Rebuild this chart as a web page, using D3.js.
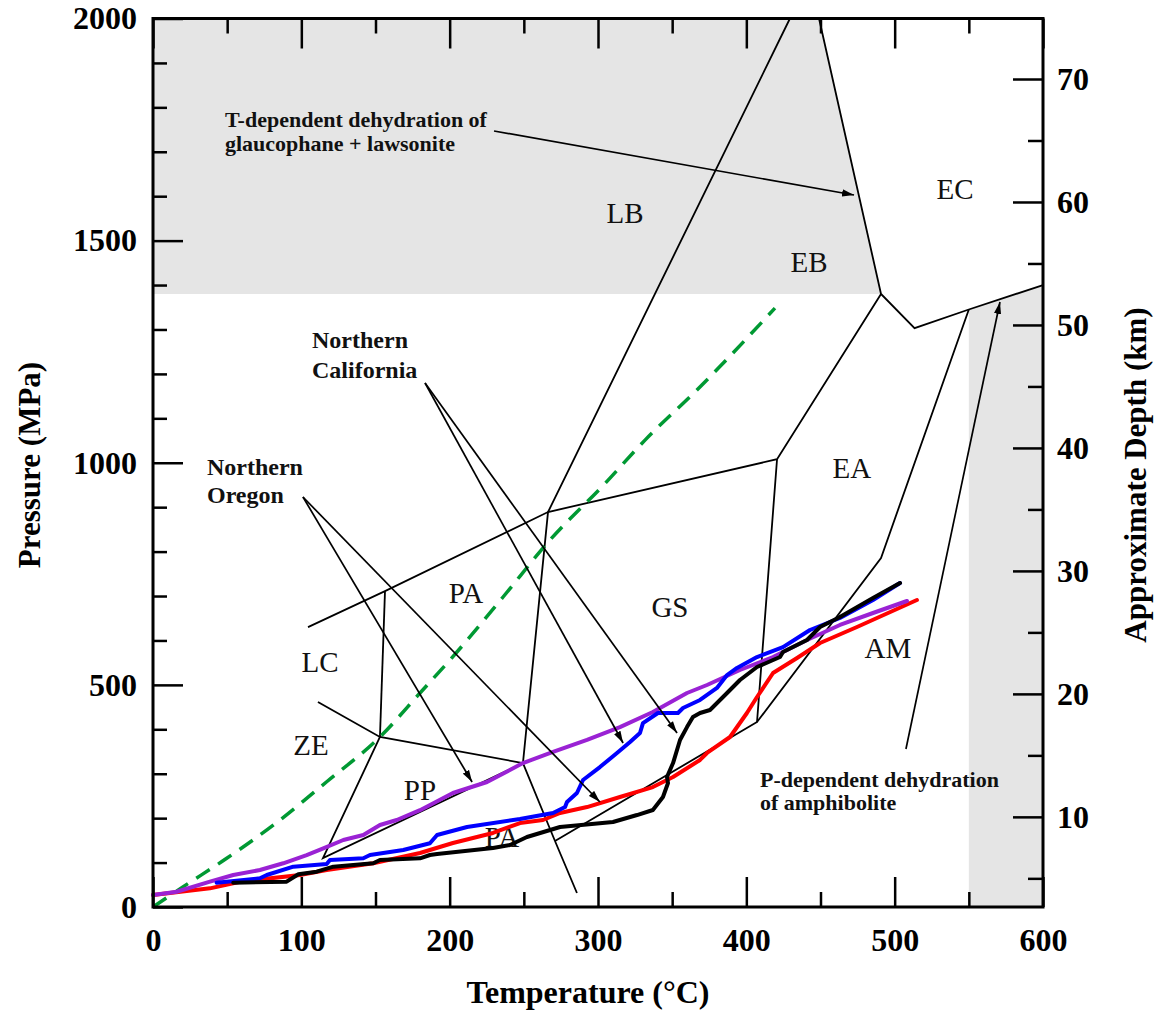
<!DOCTYPE html>
<html>
<head>
<meta charset="utf-8">
<script src="https://cdn.jsdelivr.net/npm/d3@7"></script>
<style>
  body { margin: 0; background: #fff; }
  svg { display: block; }
  text { font-family: "Liberation Serif", "Times New Roman", Times, serif; }
</style>
</head>
<body>
<svg id="chart" width="1165" height="1012"></svg>
<script>
// ---- axis ticks ----
const tempTicks = [0, 100, 200, 300, 400, 500, 600];
const tempMinorTicks = [50, 150, 250, 350, 450, 550];
const pressureTicks = [0, 500, 1000, 1500, 2000];
const pressureMinorTicks = [100, 200, 300, 400, 600, 700, 800, 900, 1100, 1200, 1300, 1400, 1600, 1700, 1800, 1900];
const depthTicks = [10, 20, 30, 40, 50, 60, 70];
const depthMinorTicks = [5, 15, 25, 35, 45, 55, 65];

// ---- shaded dehydration fields [T °C, P MPa] ----
const glaucophaneField = [[0, 1380], [0, 2000], [449, 2000], [490.8, 1380]];
const amphiboliteField = [[550, 0], [600, 0], [600, 1400], [550, 1345]];

// ---- metamorphic facies boundaries [T °C, P MPa] ----
const faciesBoundaries = [
  [[429.4, 2000], [266.3, 889], [249.4, 324], [271, 148.6], [285.8, 31.5]],
  [[104.5, 630], [156.4, 711], [266.3, 889], [420.7, 1008], [490.8, 1380]],
  [[449, 2000], [490.8, 1380], [513.4, 1303], [550, 1345], [600, 1400]],
  [[550, 1345], [490.8, 785.6], [407.2, 416.4]],
  [[420.7, 1008], [407.2, 416.4], [271, 148.6]],
  [[156.4, 711], [153, 382.7]],
  [[111.2, 461.5], [153, 382.7], [249.4, 324]],
  [[153, 382.7], [114.6, 110], [249.4, 324]]
];

// ---- facies labels ----
const faciesNames = ["LB", "EB", "EC", "PA", "GS", "EA", "LC", "ZE", "PP", "PA", "AM"];
const faciesT = [318.2, 442.3, 540.7, 211, 348.5, 471.2, 112.6, 106.5, 180, 235.3, 495.5];
const faciesP = [1562, 1452, 1616, 707, 675, 988, 551.5, 364.7, 263.4, 157.6, 583];

// ---- geotherm (dashed) ----
const geothermT = [0, 20.4, 49.7, 85.6, 117.1, 153, 180, 204.9, 236, 267.6, 303.8, 331.7, 366.7, 419.3];
const geothermP = [0, 45.7, 109.6, 195.8, 282, 382.7, 481.7, 574, 697.8, 826, 950, 1051, 1163.8, 1348];

// ---- slab P-T paths [T °C, P MPa] ----
const oregonUpper = [
  [0, 27], [16, 34.4], [38.4, 57], [54.1, 72], [72.1, 83.3], [87.8, 98.4], [103.6, 117],
  [114.8, 132], [128.3, 150.8], [141.8, 162], [153, 184.6], [164.3, 195.8], [180, 218],
  [202.2, 256.6], [225.2, 281.4], [249.4, 324], [269.7, 349], [292.6, 376], [314.8, 405],
  [337, 439], [360, 481.7], [373.5, 499.7], [395.7, 533.5], [418, 562.7], [440.9, 601],
  [463.1, 634.8], [485.4, 661.8], [508.3, 688.8]
];
const oregonLower = [
  [0, 27], [38.4, 42], [58.7, 57], [99.1, 72], [117.1, 83.3], [148.5, 98.4], [180, 121.6],
  [202.2, 144], [229.2, 166.6], [247.4, 189], [262.9, 195.8], [274.4, 211.6], [292.6, 225],
  [314.8, 247.6], [337, 270], [350.6, 292.6], [368.8, 331], [373.5, 346.7], [389, 382.7],
  [400.4, 436.7], [407.2, 472.7], [418, 526.7], [434.2, 560.5], [449.7, 594.3],
  [474.6, 630.3], [515, 691]
];
const californiaUpper = [
  [42.9, 54.7], [72.1, 64.6], [76.7, 72], [94.6, 90.7], [117.1, 96.8], [119.3, 105.8],
  [141.8, 109.6], [146.3, 117], [168.7, 128.3], [186.7, 143.4], [191.5, 162], [211.7, 180],
  [247.4, 198], [269.7, 211.6], [277.8, 225], [279.1, 236.4], [285.8, 256.6], [289.9, 285.9],
  [301.3, 315], [312.8, 346.7], [321.6, 371.4], [328.3, 391.7], [330.3, 414], [340.4, 436.7],
  [353.9, 436.7], [357.3, 448], [368.8, 466], [380.2, 493], [387, 522], [393.7, 538],
  [407.2, 562.7], [424.7, 585], [442.9, 623.5], [463.1, 650.5], [485.4, 691], [503.6, 729.3]
];
const californiaLower = [
  [54.1, 54.7], [90.1, 57], [98, 73.6], [110.4, 79.5], [121.6, 90.7], [148.5, 98.4],
  [153, 105.8], [180, 109.6], [186.7, 117], [191.5, 119.3], [229.2, 132.8], [240.7, 139.6],
  [252.1, 157.6], [274.4, 180], [310.1, 191.3], [326.3, 207], [337, 218.3], [343.8, 247.6],
  [347.2, 279], [346.5, 292.6], [350.6, 324], [355.3, 376], [360, 405], [364, 427.7],
  [368.8, 436.7], [375.5, 443.4], [387, 481.7], [395.7, 511], [407.2, 540.2], [422.7, 562.7],
  [424.7, 574], [440.9, 601], [449.7, 630.3], [463.1, 652.8], [485.4, 695.6], [503.6, 729.3]
];

// ---- annotations ----
const glaucophaneNote = ["T-dependent dehydration of", "glaucophane + lawsonite"];
const californiaNote = ["Northern", "California"];
const oregonNote = ["Northern", "Oregon"];
const amphiboliteNote = ["P-dependent dehydration", "of amphibolite"];
// leader lines: origin and arrow tip(s), [T, P]
const glaucophaneLeader = [[229.9, 1746.8], [472.6, 1602.7]];
const californiaLeaders = [[[183.4, 1179.5], [316.9, 369.2]], [[183.4, 1179.5], [353.3, 391.7]]];
const oregonLeaders = [[[101.1, 922.9], [215.1, 281.4]], [[101.1, 922.9], [301.3, 236.4]]];
const amphiboliteLeader = [[507.6, 355.7], [571, 1361.8]];

// ================= drawing =================
const svg = d3.select("#chart");
const plotLeft = 153, plotRight = 1043, plotTop = 18.5, plotBottom = 907;

const x = d3.scaleLinear().domain([0, 600]).range([plotLeft, plotRight]);
const y = d3.scaleLinear().domain([0, 2000]).range([plotBottom, plotTop]);
const yDepth = d3.scaleLinear().domain([2.67, 74.92]).range([plotBottom, plotTop]);

const line = d3.line().x(d => x(d[0])).y(d => y(d[1]));

// arrowhead
svg.append("defs").append("marker")
  .attr("id", "arrow")
  .attr("viewBox", "0 -4 12 8")
  .attr("refX", 12).attr("refY", 0)
  .attr("markerUnits", "userSpaceOnUse")
  .attr("markerWidth", 12).attr("markerHeight", 8)
  .attr("orient", "auto")
  .append("path").attr("d", "M0,-3.6L12,0L0,3.6Z").attr("fill", "#000");

// shaded fields
const shade = svg.append("g");
[glaucophaneField, amphiboliteField].forEach(f => {
  shade.append("path")
    .attr("d", line(f) + "Z")
    .attr("fill", "#e5e5e5");
});

// facies boundaries
svg.append("g").selectAll("path").data(faciesBoundaries).join("path")
  .attr("d", line)
  .attr("fill", "none")
  .attr("stroke", "#000")
  .attr("stroke-width", 1.8)
  .attr("stroke-linejoin", "miter");

// facies labels
svg.append("g").selectAll("text").data(faciesNames).join("text")
  .attr("x", (d, i) => x(faciesT[i]))
  .attr("y", (d, i) => y(faciesP[i]))
  .attr("dy", "0.35em")
  .attr("text-anchor", "middle")
  .attr("font-size", 29)
  .attr("fill", "#111")
  .text(d => d);

// geotherm
svg.append("path")
  .datum(d3.zip(geothermT, geothermP))
  .attr("d", d3.line().x(d => x(d[0])).y(d => y(d[1])).curve(d3.curveMonotoneX))
  .attr("fill", "none")
  .attr("stroke", "#009933")
  .attr("stroke-width", 3.5)
  .attr("stroke-dasharray", "16 10");

// P-T paths
const paths = [
  { data: oregonLower, color: "#ff0000" },
  { data: oregonUpper, color: "#9a22d4" },
  { data: californiaUpper, color: "#0000ff" },
  { data: californiaLower, color: "#000000" }
];
svg.append("g").selectAll("path").data(paths).join("path")
  .attr("d", d => line(d.data))
  .attr("fill", "none")
  .attr("stroke", d => d.color)
  .attr("stroke-width", 4)
  .attr("stroke-linejoin", "round")
  .attr("stroke-linecap", "round");

// leader lines
const leaders = [glaucophaneLeader, ...californiaLeaders, ...oregonLeaders, amphiboliteLeader];
svg.append("g").selectAll("path").data(leaders).join("path")
  .attr("d", line)
  .attr("fill", "none")
  .attr("stroke", "#000")
  .attr("stroke-width", 1.7)
  .attr("marker-end", "url(#arrow)");

// annotation text blocks: lines, T at left edge, P at first baseline, line step px, size
function note(lines, t, p, step, size) {
  const g = svg.append("text")
    .attr("font-size", size)
    .attr("font-weight", "bold")
    .attr("fill", "#111");
  lines.forEach((s, i) => {
    g.append("tspan")
      .attr("x", x(t))
      .attr("y", y(p) + i * step)
      .text(s);
  });
}
note(glaucophaneNote, 48.5, 1755.8, 24, 22);
note(californiaNote, 107.2, 1259.3, 30, 24);
note(oregonNote, 36.4, 972.3, 28, 24);
note(amphiboliteNote, 409.2, 270.8, 23.5, 22);

// ---- axes ----
const tickStyle = g => {
  g.select(".domain").remove();
  g.selectAll(".tick line").attr("stroke", "#000").attr("stroke-width", 2.5);
  g.selectAll(".tick text")
    .attr("font-family", "'Liberation Serif', 'Times New Roman', serif")
    .attr("font-size", 32)
    .attr("font-weight", "bold")
    .attr("fill", "#000");
};

svg.append("g").attr("transform", `translate(0,${plotBottom})`)
  .call(d3.axisBottom(x).tickValues(tempTicks).tickSizeInner(-30).tickSizeOuter(0).tickPadding(21).tickFormat(d3.format("d")))
  .call(tickStyle);
svg.append("g").attr("transform", `translate(0,${plotBottom})`)
  .call(d3.axisBottom(x).tickValues(tempMinorTicks).tickSizeInner(-15).tickSizeOuter(0).tickFormat(""))
  .call(tickStyle);
svg.append("g").attr("transform", `translate(0,${plotTop})`)
  .call(d3.axisTop(x).tickValues(tempTicks).tickSizeInner(-30).tickSizeOuter(0).tickFormat(""))
  .call(tickStyle);
svg.append("g").attr("transform", `translate(0,${plotTop})`)
  .call(d3.axisTop(x).tickValues(tempMinorTicks).tickSizeInner(-15).tickSizeOuter(0).tickFormat(""))
  .call(tickStyle);

svg.append("g").attr("transform", `translate(${plotLeft},0)`)
  .call(d3.axisLeft(y).tickValues(pressureTicks).tickSizeInner(-30).tickSizeOuter(0).tickPadding(16).tickFormat(d3.format("d")))
  .call(tickStyle);
svg.append("g").attr("transform", `translate(${plotLeft},0)`)
  .call(d3.axisLeft(y).tickValues(pressureMinorTicks).tickSizeInner(-14).tickSizeOuter(0).tickFormat(""))
  .call(tickStyle);

svg.append("g").attr("transform", `translate(${plotRight},0)`)
  .call(d3.axisRight(yDepth).tickValues(depthTicks).tickSizeInner(-30).tickSizeOuter(0).tickPadding(14).tickFormat(d3.format("d")))
  .call(tickStyle);
svg.append("g").attr("transform", `translate(${plotRight},0)`)
  .call(d3.axisRight(yDepth).tickValues(depthMinorTicks).tickSizeInner(-15).tickSizeOuter(0).tickFormat(""))
  .call(tickStyle);

// plot frame
svg.append("rect")
  .attr("x", plotLeft).attr("y", plotTop)
  .attr("width", plotRight - plotLeft).attr("height", plotBottom - plotTop)
  .attr("fill", "none")
  .attr("stroke", "#000")
  .attr("stroke-width", 3);

// axis titles
svg.append("text")
  .attr("x", 588).attr("y", 1003)
  .attr("text-anchor", "middle")
  .attr("font-size", 32).attr("font-weight", "bold")
  .text("Temperature (°C)");
svg.append("text")
  .attr("transform", "translate(40,465) rotate(-90)")
  .attr("text-anchor", "middle")
  .attr("font-size", 31).attr("font-weight", "bold")
  .text("Pressure (MPa)");
svg.append("text")
  .attr("transform", "translate(1146,475) rotate(-90)")
  .attr("text-anchor", "middle")
  .attr("font-size", 31).attr("font-weight", "bold")
  .text("Approximate Depth (km)");
</script>
</body>
</html>
